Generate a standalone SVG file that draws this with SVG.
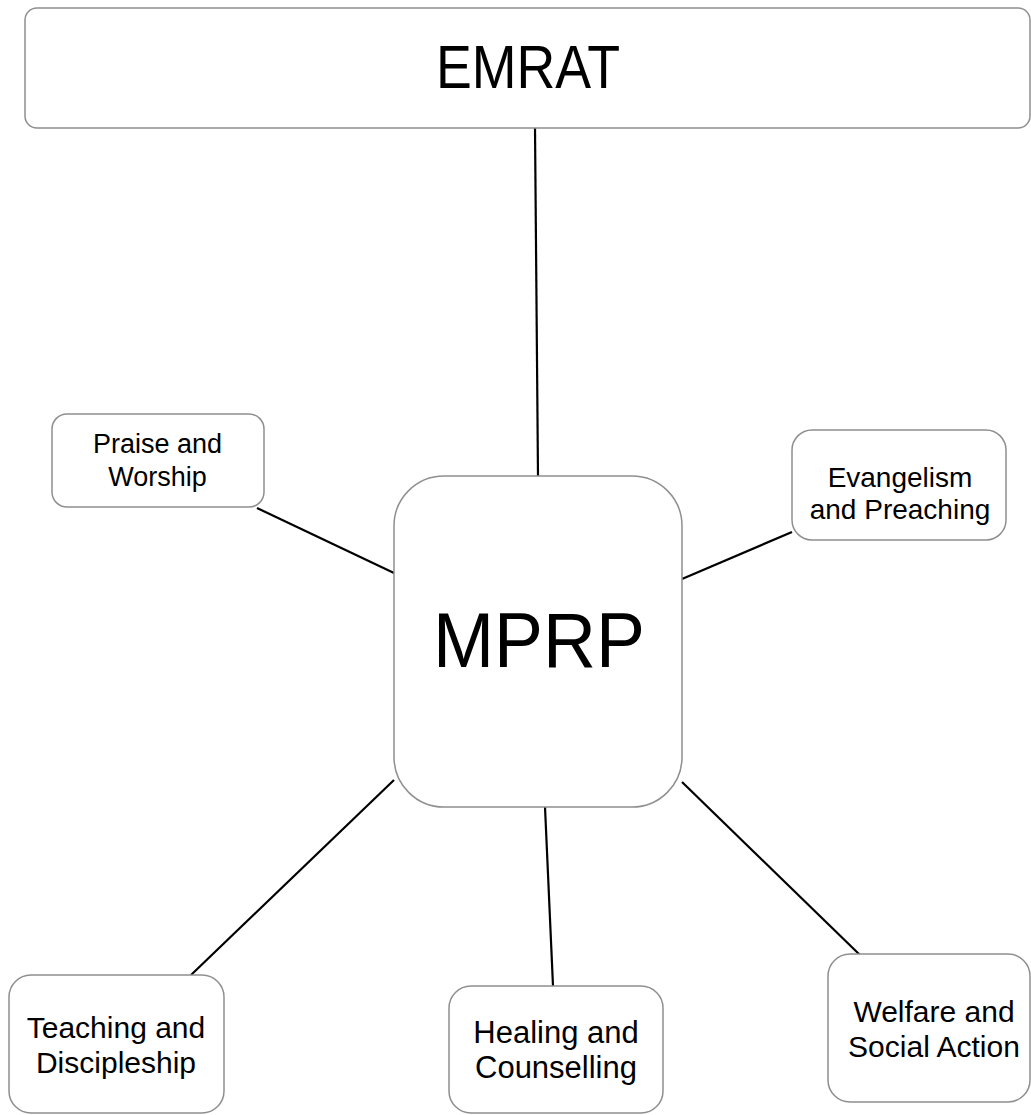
<svg xmlns="http://www.w3.org/2000/svg" width="1031" height="1115" viewBox="0 0 1031 1115">
<style>
.box{fill:#fff;stroke:#8f8f8f;stroke-width:1.5}
.lbl{font-family:"Liberation Sans",Arial,sans-serif;fill:#000;text-anchor:middle}
.conn line{stroke:#000;stroke-width:2.2}
</style>
<rect width="1031" height="1115" fill="#fff"/>
<g class="conn" id="connectors">
<line x1="535" y1="128" x2="538" y2="476"/>
<line x1="257" y1="508" x2="394" y2="573"/>
<line x1="792" y1="532" x2="682" y2="579"/>
<line x1="394" y1="780" x2="191" y2="975"/>
<line x1="545" y1="807" x2="553" y2="986"/>
<line x1="682" y1="782" x2="860" y2="955"/>
</g>
<g id="emrat">
<rect class="box" x="25" y="8" width="1005" height="120" rx="12"/>
<text class="lbl" x="528" y="88" font-size="62" textLength="184" lengthAdjust="spacingAndGlyphs">EMRAT</text>
</g>
<g id="mprp">
<rect class="box" x="394" y="476" width="288" height="331" rx="50"/>
<text class="lbl" x="539" y="667" font-size="78" textLength="212" lengthAdjust="spacingAndGlyphs">MPRP</text>
</g>
<g id="praise">
<rect class="box" x="52" y="414" width="212" height="93" rx="15"/>
<text class="lbl" x="157.5" y="453" font-size="27">Praise and</text>
<text class="lbl" x="157.5" y="486" font-size="27">Worship</text>
</g>
<g id="evangelism">
<rect class="box" x="792" y="430" width="214" height="110" rx="20"/>
<text class="lbl" x="900" y="487" font-size="28">Evangelism</text>
<text class="lbl" x="900" y="519" font-size="28">and Preaching</text>
</g>
<g id="teaching">
<rect class="box" x="9" y="975" width="215" height="138" rx="22"/>
<text class="lbl" x="116" y="1038" font-size="30">Teaching and</text>
<text class="lbl" x="116" y="1073" font-size="30">Discipleship</text>
</g>
<g id="healing">
<rect class="box" x="449" y="986" width="214" height="127" rx="22"/>
<text class="lbl" x="556" y="1043" font-size="31">Healing and</text>
<text class="lbl" x="556" y="1078" font-size="31">Counselling</text>
</g>
<g id="welfare">
<rect class="box" x="828" y="954" width="202" height="148" rx="22"/>
<text class="lbl" x="934" y="1022" font-size="30">Welfare and</text>
<text class="lbl" x="934" y="1057" font-size="30">Social Action</text>
</g>
</svg>
